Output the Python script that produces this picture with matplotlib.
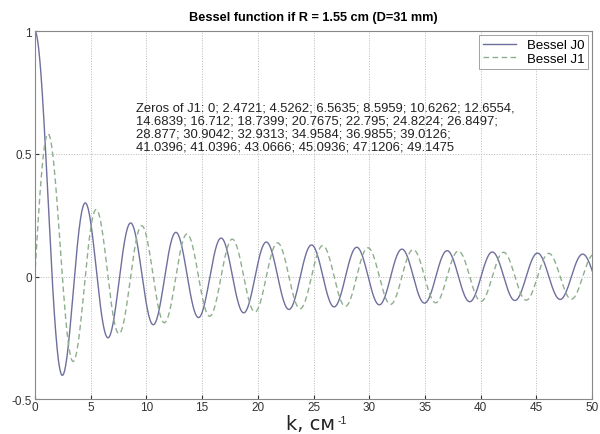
import numpy as np
import matplotlib
matplotlib.use("Agg")
import matplotlib.pyplot as plt

plt.rcParams['font.family'] = ['Liberation Sans', 'DejaVu Sans']

# radius read from the title, k range from the x axis
R = 1.55
kMin, kMax = 0, 50
nPoints = 2000
labels = ["Bessel J0", "Bessel J1"]
j1Zeros = ["0", "2.4721", "4.5262", "6.5635", "8.5959", "10.6262", "12.6554",
           "14.6839", "16.712", "18.7399", "20.7675", "22.795", "24.8224", "26.8497",
           "28.877", "30.9042", "32.9313", "34.9584", "36.9855", "39.0126",
           "41.0396", "41.0396", "43.0666", "45.0936", "47.1206", "49.1475"]
xTicks = [0, 5, 10, 15, 20, 25, 30, 35, 40, 45, 50]
yTicks = [-0.5, 0, 0.5, 1]
yTickLabels = ["-0.5", "0", "0.5", "1"]


def bessel(n, x):
    # integral form J_n(x) = 1/pi * int_0^pi cos(n*t - x*sin(t)) dt
    t = np.linspace(0, np.pi, 801)
    vals = np.cos(n * t[None, :] - x[:, None] * np.sin(t[None, :]))
    return np.trapezoid(vals, t, axis=1) / np.pi


k = np.linspace(kMin, kMax, nPoints)
J0 = bessel(0, k * R)
J1 = bessel(1, k * R)

fig = plt.figure(figsize=(6, 4.35), dpi=100)
ax = fig.add_axes([0.058, 0.080, 0.929, 0.846])
ax.plot(k, J0, color="#6e6f9c", lw=1.0, label=labels[0])
ax.plot(k, J1, color="#8fae8f", lw=1.0, ls=(0, (4, 2.5)), label=labels[1])

ax.set_xlim(kMin, kMax)
ax.set_ylim(-0.5, 1)
ax.set_xticks(xTicks)
ax.set_xticklabels([str(v) for v in xTicks])
ax.set_yticks(yTicks)
ax.set_yticklabels(yTickLabels)
ax.tick_params(labelsize=8.5, length=3, direction="in", colors="#333333", pad=2)
ax.tick_params(axis="x", pad=1.2)
ax.grid(True, ls=":", color="#b8b8b8", lw=0.7)
for s in ax.spines.values():
    s.set_color("#888888")

ax.set_title("Bessel function if R = 1.55 cm (D=31 mm)", fontsize=9.2,
             fontweight="bold", pad=8)
# axis label with a small raised exponent, as in the original
fig.text(0.477, 0.011, "k, см", fontsize=14, family="DejaVu Sans",
         ha="left", va="baseline", color="#222222")
fig.text(0.562, 0.025, "-1", fontsize=7.5, ha="left", va="baseline",
         color="#222222")

lines = ["Zeros of J1: " + "; ".join(j1Zeros[:7]) + ",",
         "; ".join(j1Zeros[7:14]) + ";",
         "; ".join(j1Zeros[14:20]) + ";",
         "; ".join(j1Zeros[20:])]
ax.text(9.05, 0.715, "\n".join(lines), fontsize=9.4, va="top", ha="left",
        linespacing=1.12, color="#222222")

leg = ax.legend(loc="upper right", fontsize=9.5, frameon=True, fancybox=False,
                borderaxespad=0.3, borderpad=0.3, handlelength=2.5,
                labelspacing=0.1)
leg.get_frame().set_edgecolor("#777777")
leg.get_frame().set_linewidth(0.6)

fig.savefig("out.png", dpi=100)
